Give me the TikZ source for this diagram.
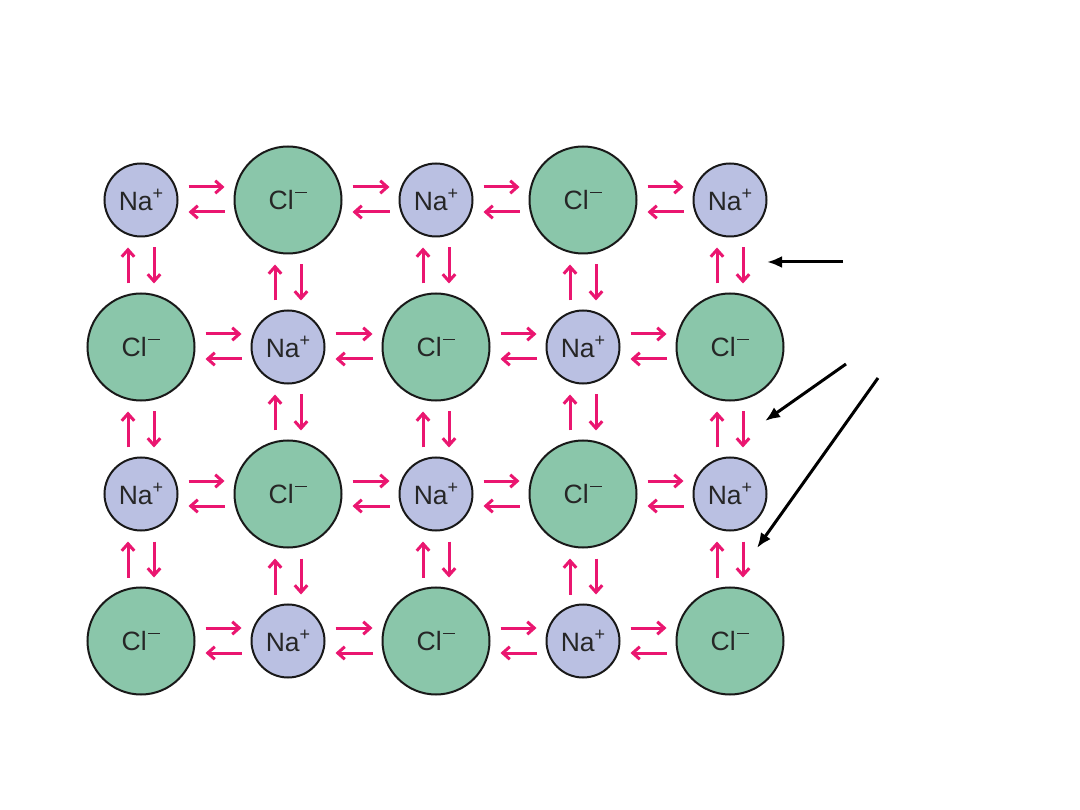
\documentclass[tikz,border=0pt]{standalone}
\usepackage{fontspec}
\setmainfont{Liberation Sans}
\usetikzlibrary{arrows.meta}
\definecolor{nafill}{RGB}{186,192,226}
\definecolor{clfill}{RGB}{138,198,170}
\definecolor{arrpink}{RGB}{234,22,112}
\definecolor{iontext}{RGB}{38,38,38}
\newcommand{\naplus}{Na\raisebox{0.42em}{\fontsize{18}{18}\selectfont +}}
\newcommand{\clminus}{Cl\hspace{1.5pt}\raisebox{16pt}{\rule{12pt}{1.5pt}}}
\tikzset{
  ion/.style={circle, draw=black!90, line width=2pt, inner sep=0pt, text=iontext, font=\fontsize{26.5}{28}\selectfont},
  naion/.style={ion, fill=nafill, minimum size=73pt},
  clion/.style={ion, fill=clfill, minimum size=107pt},
  pinkarr/.style={draw=arrpink, line width=3pt, -{Straight Barb[length=7pt,width=12.5pt]}},
  blackarr/.style={draw=black, line width=3pt, -{Latex[length=15pt,width=12pt]}}
}
\begin{document}
\begin{tikzpicture}[x=1pt,y=-1pt]
\useasboundingbox (0,0) rectangle (1080,810);
\fill[white] (0,0) rectangle (1080,810);
% ions
\foreach \i/\y in {1/200,2/347,3/494,4/641}{
  \foreach \j/\x in {1/141,2/288,3/436,4/583,5/730}{
    \pgfmathtruncatemacro\p{mod(\i+\j,2)}
    \ifnum\p=0
      \node[naion] (c\i\j) at (\x,\y) {\naplus};
    \else
      \node[clion] (c\i\j) at (\x,\y) {\clminus};
    \fi
  }
}
% horizontal attraction arrows
\foreach \i in {1,...,4}{
  \foreach \j [evaluate=\j as \k using int(\j+1)] in {1,...,4}{
    \draw[pinkarr] ([shift={(10pt,13pt)}]c\i\j.east) -- ([shift={(-9pt,13pt)}]c\i\k.west);
    \draw[pinkarr] ([shift={(-9pt,-12pt)}]c\i\k.west) -- ([shift={(10pt,-12pt)}]c\i\j.east);
  }
}
% vertical attraction arrows
\foreach \i [evaluate=\i as \k using int(\i+1)] in {1,2,3}{
  \foreach \j in {1,...,5}{
    \draw[pinkarr] ([shift={(-13pt,9pt)}]c\k\j.north) -- ([shift={(-13pt,-10pt)}]c\i\j.south);
    \draw[pinkarr] ([shift={(13pt,-10pt)}]c\i\j.south) -- ([shift={(13pt,9pt)}]c\k\j.north);
  }
}
% black pointer arrows
\coordinate (t1) at (843,262); \coordinate (h1) at (767,262);
\coordinate (t2) at (846,364); \coordinate (h2) at (765,421);
\coordinate (t3) at (878,378); \coordinate (h3) at (757,548);
\draw[blackarr] (t1) -- (h1);
\draw[blackarr] (t2) -- (h2);
\draw[blackarr] (t3) -- (h3);
\end{tikzpicture}
\end{document}
